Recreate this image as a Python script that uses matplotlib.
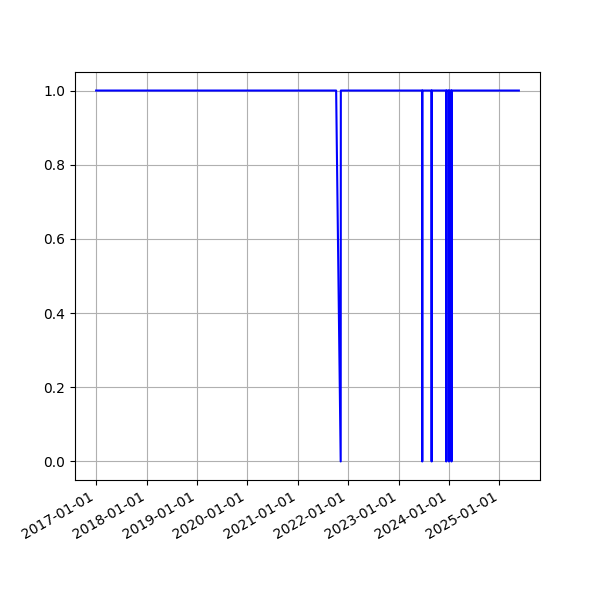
import pandas as pd
import numpy as np
import matplotlib
matplotlib.use("Agg")
import matplotlib.pyplot as plt
import matplotlib.dates as mdates

# change points of the 0/1 series
dates = ["2017-01-01", "2021-10-06", "2021-11-08", "2021-11-09",
         "2023-06-21", "2023-06-22", "2023-06-23",
         "2023-08-28", "2023-08-29", "2023-08-30",
         "2023-12-12", "2023-12-13", "2023-12-14",
         "2023-12-31", "2024-01-01", "2024-01-02",
         "2024-01-19", "2024-01-20", "2024-01-21",
         "2025-05-22"]
values = [1, 1, 0, 1,
          1, 0, 1,
          1, 0, 1,
          1, 0, 1,
          1, 0, 1,
          1, 0, 1,
          1]

df = pd.DataFrame({"date": pd.to_datetime(dates), "value": values})

fig, ax = plt.subplots(figsize=(6, 6), dpi=100)
ax.plot(df["date"], df["value"], color="blue")
ax.xaxis.set_major_locator(mdates.YearLocator())
ax.xaxis.set_major_formatter(mdates.DateFormatter("%Y-%m-%d"))
ax.grid(True)
fig.autofmt_xdate()
fig.savefig("out.png")
